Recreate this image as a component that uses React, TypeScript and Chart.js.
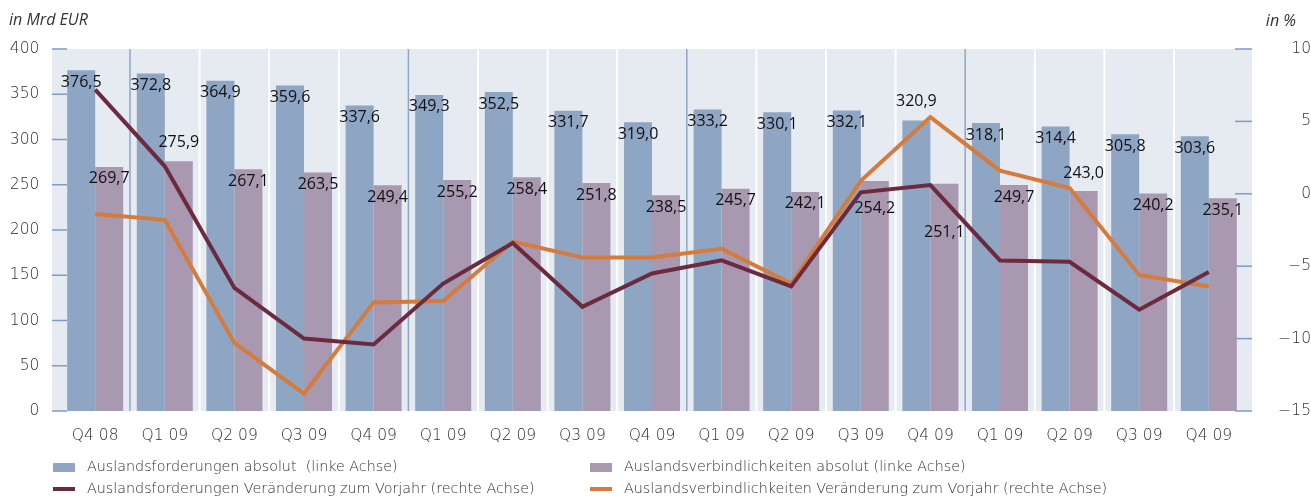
import React, { useEffect, useRef } from "react";
import { Chart, registerables } from "chart.js";

Chart.register(...registerables);

// ---------- data ----------
const categories = [
  "Q4 08", "Q1 09", "Q2 09", "Q3 09", "Q4 09",
  "Q1 09", "Q2 09", "Q3 09", "Q4 09",
  "Q1 09", "Q2 09", "Q3 09", "Q4 09",
  "Q1 09", "Q2 09", "Q3 09", "Q4 09",
];

const claimsAbsolute = [
  376.5, 372.8, 364.9, 359.6, 337.6, 349.3, 352.5, 331.7, 319.0,
  333.2, 330.1, 332.1, 320.9, 318.1, 314.4, 305.8, 303.6,
];

const liabilitiesAbsolute = [
  269.7, 275.9, 267.1, 263.5, 249.4, 255.2, 258.4, 251.8, 238.5,
  245.7, 242.1, 254.2, 251.1, 249.7, 243.0, 240.2, 235.1,
];

const claimsChange = [
  7.2, 1.9, -6.5, -10.0, -10.4, -6.2, -3.4, -7.8, -5.5,
  -4.6, -6.4, 0.1, 0.6, -4.6, -4.7, -8.0, -5.4,
];

const liabilitiesChange = [
  -1.4, -1.8, -10.3, -13.8, -7.5, -7.4, -3.3, -4.4, -4.4,
  -3.8, -6.2, 0.9, 5.3, 1.6, 0.4, -5.6, -6.4,
];

const seriesNames = [
  "Auslandsforderungen absolut  (linke Achse)",
  "Auslandsverbindlichkeiten absolut (linke Achse)",
  "Auslandsforderungen Veränderung zum Vorjahr (rechte Achse)",
  "Auslandsverbindlichkeiten Veränderung zum Vorjahr (rechte Achse)",
];

const leftAxisTitle = "in Mrd EUR";
const rightAxisTitle = "in %";

// ---------- style ----------
const COLORS = {
  claimsBar: "#8ea5c4",
  liabBar: "#a898b0",
  claimsLine: "#6c2a3f",
  liabLine: "#d57b3c",
  plotBg: "#e6ebf2",
  yearSep: "#8ea6c8",
  tickMark: "#7d9bc9",
  axisText: "#2e2e2e",
};

const AXIS_FONT_FAMILY = "'DejaVu Sans', sans-serif";
const AXIS_WEIGHT = "300";
const LABEL_FONT = "16px 'Open Sans', 'Noto Sans', sans-serif";

// label vertical offsets (px relative to bar top), default +12
const claimsLabelDy: Record<number, number> = { 12: -19 };
const liabLabelDy: Record<number, number> = { 1: -19, 11: 27, 12: 49, 14: -18 };

const fmt = (v: number) => v.toFixed(1).replace(".", ",");

const EXT = 8.4;

const bgPlugin = {
  id: "bgPlugin",
  beforeDatasetsDraw(chart: any) {
    const { ctx, chartArea: a, scales } = chart;
    const xs = scales.x;
    const ys = scales.y;
    const ys1 = scales.y1;
    ctx.save();
    ctx.fillStyle = COLORS.plotBg;
    ctx.fillRect(a.left - EXT, a.top, a.right - a.left + 2 * EXT, a.bottom - a.top);
    for (let i = 1; i < categories.length; i++) {
      const px = (xs.getPixelForValue(i - 1) + xs.getPixelForValue(i)) / 2;
      const year = (i - 1) % 4 === 0;
      ctx.strokeStyle = year ? COLORS.yearSep : "#ffffff";
      ctx.lineWidth = year ? 1.5 : 2;
      ctx.beginPath();
      ctx.moveTo(px, a.top);
      ctx.lineTo(px, a.bottom);
      ctx.stroke();
    }
    ctx.strokeStyle = COLORS.tickMark;
    ctx.lineWidth = 1.5;
    ys.ticks.forEach((t: any) => {
      const py = ys.getPixelForValue(t.value);
      ctx.beginPath();
      ctx.moveTo(a.left - EXT, py);
      ctx.lineTo(a.left + 6.6, py);
      ctx.stroke();
    });
    ys1.ticks.forEach((t: any) => {
      const py = ys1.getPixelForValue(t.value);
      ctx.beginPath();
      ctx.moveTo(a.right - 8.6, py);
      ctx.lineTo(a.right + EXT, py);
      ctx.stroke();
    });
    ctx.restore();
  },
};

const labelPlugin = {
  id: "labelPlugin",
  afterDatasetsDraw(chart: any) {
    const { ctx } = chart;
    ctx.save();
    ctx.font = LABEL_FONT;
    ctx.fillStyle = "#111111";
    ctx.textAlign = "center";
    ctx.textBaseline = "middle";
    const draw = (dsIndex: number, values: number[], dyMap: Record<number, number>) => {
      const meta = chart.getDatasetMeta(dsIndex);
      meta.data.forEach((el: any, i: number) => {
        const dy = dyMap[i] !== undefined ? dyMap[i] : 12;
        ctx.fillText(fmt(values[i]), el.x, el.y + dy);
      });
    };
    draw(2, claimsAbsolute, claimsLabelDy);
    draw(3, liabilitiesAbsolute, liabLabelDy);
    ctx.restore();
  },
};

const legendPlugin = {
  id: "legendPlugin",
  afterDraw(chart: any) {
    const { ctx } = chart;
    ctx.save();
    ctx.font = `${AXIS_WEIGHT} 14.3px ${AXIS_FONT_FAMILY}`;
    ctx.fillStyle = COLORS.axisText;
    ctx.textBaseline = "middle";
    ctx.textAlign = "left";
    const cols = [53, 590];
    const rows = [467.5, 489];
    const boxColors = [COLORS.claimsBar, COLORS.liabBar];
    const lineColors = [COLORS.claimsLine, COLORS.liabLine];
    for (let c = 0; c < 2; c++) {
      const x0 = cols[c];
      ctx.fillStyle = boxColors[c];
      ctx.fillRect(x0, 463, 22, 9);
      ctx.fillStyle = lineColors[c];
      ctx.fillRect(x0, 487, 22, 4);
      ctx.fillStyle = COLORS.axisText;
      ctx.fillText(seriesNames[c], x0 + 34, rows[0]);
      ctx.fillText(seriesNames[c + 2], x0 + 34, rows[1]);
    }
    // axis titles
    ctx.font = "italic 16px 'Open Sans', sans-serif";
    ctx.fillStyle = "#333333";
    ctx.textAlign = "left";
    ctx.fillText(leftAxisTitle, 9, 20);
    ctx.textAlign = "right";
    ctx.fillText(rightAxisTitle, 1296, 21);
    ctx.restore();
  },
};

export default function App() {
  const canvasRef = useRef<HTMLCanvasElement | null>(null);

  useEffect(() => {
    document.body.style.margin = "0";
    const canvas = canvasRef.current;
    if (!canvas) return;
    const axisFont = { family: AXIS_FONT_FAMILY, size: 15.5, weight: AXIS_WEIGHT };
    const chart = new Chart(canvas, {
      type: "bar",
      data: {
        labels: categories,
        datasets: [
          {
            type: "line",
            label: seriesNames[2],
            data: claimsChange,
            yAxisID: "y1",
            borderColor: COLORS.claimsLine,
            backgroundColor: COLORS.claimsLine,
            borderWidth: 4,
            pointRadius: 0,
            tension: 0,
            order: 0,
          } as any,
          {
            type: "line",
            label: seriesNames[3],
            data: liabilitiesChange,
            yAxisID: "y1",
            borderColor: COLORS.liabLine,
            backgroundColor: COLORS.liabLine,
            borderWidth: 4,
            pointRadius: 0,
            tension: 0,
            order: 1,
          } as any,
          {
            type: "bar",
            label: seriesNames[0],
            data: claimsAbsolute,
            yAxisID: "y",
            backgroundColor: COLORS.claimsBar,
            categoryPercentage: 56 / 69.6,
            barPercentage: 1,
            order: 2,
          },
          {
            type: "bar",
            label: seriesNames[1],
            data: liabilitiesAbsolute,
            yAxisID: "y",
            backgroundColor: COLORS.liabBar,
            categoryPercentage: 56 / 69.6,
            barPercentage: 1,
            order: 2,
          },
        ],
      },
      options: {
        responsive: false,
        animation: false,
        layout: { padding: { top: 49, left: 0, right: 0, bottom: 0 } },
        plugins: {
          legend: { display: false },
          tooltip: { enabled: false },
        },
        scales: {
          x: {
            offset: true,
            grid: { display: false, drawTicks: false },
            border: { display: false },
            ticks: {
              padding: 16,
              color: COLORS.axisText,
              font: axisFont as any,
              maxRotation: 0,
              autoSkip: false,
            },
            afterFit(scale: any) {
              scale.height = 89;
            },
          },
          y: {
            position: "left",
            min: 0,
            max: 400,
            grid: { display: false, drawTicks: false },
            border: { display: false },
            ticks: {
              stepSize: 50,
              padding: 21,
              color: COLORS.axisText,
              font: axisFont as any,
            },
            afterFit(scale: any) {
              scale.width = 60.4;
            },
          },
          y1: {
            position: "right",
            min: -15,
            max: 10,
            grid: { display: false, drawTicks: false },
            border: { display: false },
            ticks: {
              stepSize: 5,
              padding: 18.7,
              crossAlign: "far",
              color: COLORS.axisText,
              font: axisFont as any,
              callback: (v: any) => (Number(v) < 0 ? "\u2212" + Math.abs(Number(v)) : String(v)),
            },
            afterFit(scale: any) {
              scale.width = 1311 - 1243.6;
            },
          },
        },
      },
      plugins: [bgPlugin, labelPlugin, legendPlugin],
    });
    return () => chart.destroy();
  }, []);

  return (
    <div style={{ width: 1311, height: 500 }}>
      <canvas ref={canvasRef} width={1311} height={500} style={{ display: "block" }} />
    </div>
  );
}
